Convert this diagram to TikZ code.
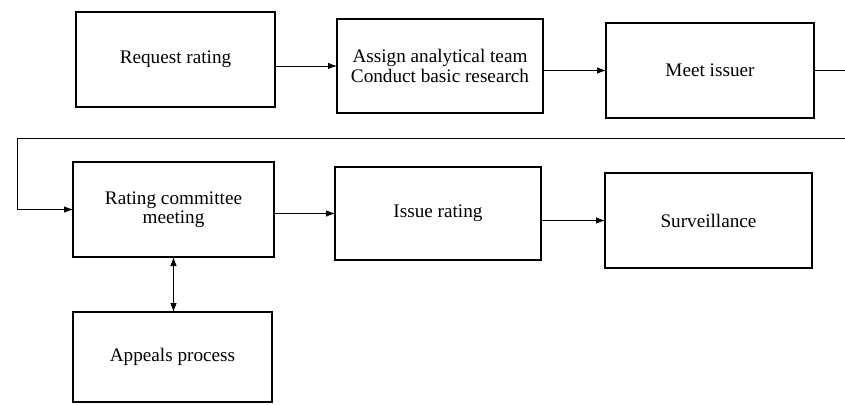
\documentclass[tikz,border=0pt]{standalone}
\usepackage{fontspec}
\setmainfont{Liberation Serif}
\usetikzlibrary{arrows.meta}
\begin{document}
\begin{tikzpicture}[x=1pt,y=-1pt,
  box/.style={draw,line width=1.1pt,inner sep=0pt,outer sep=0pt,align=center,
    font=\fontsize{19.2}{19.5}\selectfont},
  arr/.style={line width=0.8pt,-{Latex[length=9pt,width=6.5pt]}},
  link/.style={line width=0.8pt},
  darr/.style={line width=0.8pt,{Latex[length=9pt,width=6.5pt]}-{Latex[length=9pt,width=6.5pt]}}]
\useasboundingbox (0,0) rectangle (845,404);
\node[box,minimum width=199pt,minimum height=95pt] (req) at (175.5,59.5) {Request rating};
\node[box,minimum width=206pt,minimum height=94pt] (asg) at (440,66) {Assign analytical team\\Conduct basic research};
\node[box,minimum width=208pt,minimum height=95pt] (meet) at (710,70.5) {Meet issuer};
\node[box,minimum width=201pt,minimum height=95pt] (rcm) at (173.5,209.5) {Rating committee\\meeting};
\node[box,minimum width=206pt,minimum height=93pt] (iss) at (438,213.5) {Issue rating};
\node[box,minimum width=207pt,minimum height=95pt] (surv) at (708.5,220.5) {Surveillance};
\node[box,minimum width=199pt,minimum height=90pt] (app) at (172.5,357) {Appeals process};
\coordinate (edgeA) at (845,70.5);
\coordinate (edgeB) at (845,138);
\coordinate (cornerL) at (17,138);
\draw[arr] (req.east |- asg.west) -- (asg.west);
\draw[arr] (asg.east |- meet.west) -- (meet.west);
\draw[link] (meet.east) -- (edgeA);
\draw[arr] (edgeB) -- (cornerL) -- (cornerL |- rcm.west) -- (rcm.west);
\draw[arr] (rcm.east |- iss.west) -- (iss.west);
\draw[arr] (iss.east |- surv.west) -- (surv.west);
\draw[darr] (rcm.south) -- (rcm.south |- app.north);
\end{tikzpicture}
\end{document}
